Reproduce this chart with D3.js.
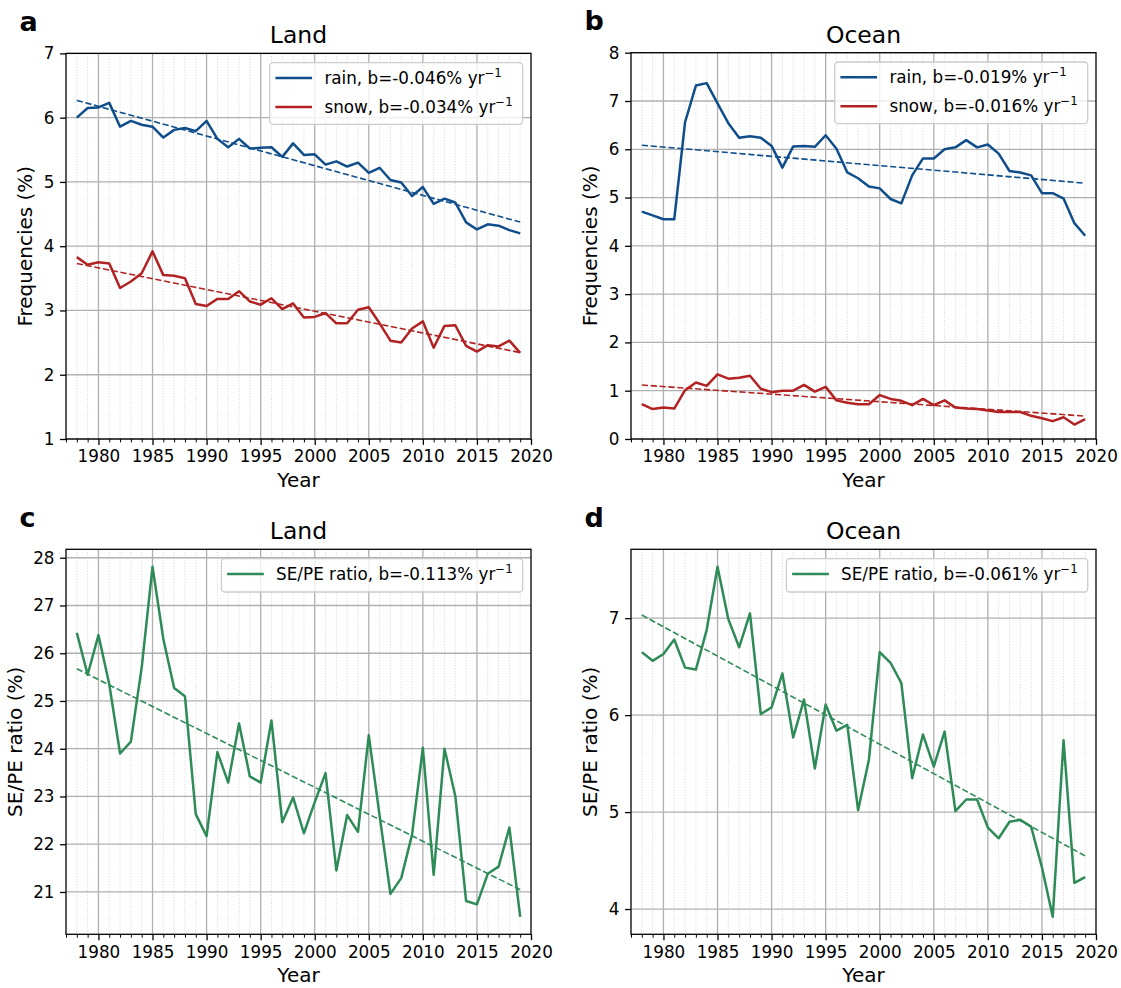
<!DOCTYPE html>
<html><head><meta charset="utf-8">
<script src="https://cdn.jsdelivr.net/npm/d3@7"></script>
<style>
body{margin:0;background:#fff}
text{font-family:"DejaVu Sans",sans-serif;fill:#000}
</style>
</head><body>
<svg id="chart" width="1121" height="988"></svg>
<script>
// ---------------- data ----------------
const years = [1978,1979,1980,1981,1982,1983,1984,1985,1986,1987,1988,1989,1990,1991,1992,1993,1994,1995,1996,1997,1998,1999,2000,2001,2002,2003,2004,2005,2006,2007,2008,2009,2010,2011,2012,2013,2014,2015,2016,2017,2018,2019];

const landRain = [6.00,6.15,6.16,6.23,5.86,5.95,5.89,5.86,5.69,5.81,5.84,5.79,5.95,5.67,5.54,5.67,5.52,5.53,5.54,5.39,5.60,5.42,5.43,5.27,5.32,5.24,5.30,5.14,5.22,5.03,4.99,4.78,4.92,4.66,4.74,4.68,4.37,4.26,4.34,4.32,4.25,4.20];
const landSnow = [3.83,3.71,3.75,3.73,3.35,3.45,3.58,3.92,3.55,3.54,3.50,3.10,3.07,3.18,3.18,3.30,3.14,3.09,3.19,3.02,3.11,2.89,2.90,2.96,2.80,2.80,3.01,3.05,2.80,2.53,2.50,2.72,2.83,2.42,2.76,2.77,2.45,2.36,2.46,2.44,2.53,2.34];
const oceanRain = [4.71,4.63,4.55,4.55,6.56,7.32,7.37,6.95,6.54,6.24,6.27,6.24,6.07,5.62,6.06,6.07,6.05,6.29,6.01,5.52,5.40,5.23,5.19,4.97,4.88,5.46,5.81,5.81,6.00,6.04,6.19,6.04,6.10,5.91,5.55,5.52,5.46,5.09,5.09,4.98,4.47,4.21];
const oceanSnow = [0.72,0.62,0.65,0.63,1.01,1.17,1.10,1.34,1.25,1.27,1.31,1.04,0.97,1.00,1.00,1.12,0.98,1.08,0.80,0.75,0.72,0.72,0.91,0.83,0.79,0.70,0.83,0.70,0.80,0.65,0.63,0.62,0.59,0.56,0.56,0.56,0.48,0.43,0.37,0.45,0.30,0.41];
const landRatio = [26.43,25.55,26.38,25.35,23.90,24.15,25.70,27.81,26.30,25.27,25.10,22.63,22.17,23.93,23.29,24.53,23.42,23.29,24.59,22.46,22.98,22.23,22.88,23.49,21.45,22.61,22.26,24.28,22.60,20.96,21.29,22.20,24.02,21.36,24.00,23.01,20.81,20.74,21.38,21.53,22.35,20.48];
const oceanRatio = [6.65,6.56,6.63,6.78,6.49,6.47,6.88,7.53,6.99,6.70,7.05,6.01,6.08,6.43,5.77,6.16,5.45,6.11,5.84,5.90,5.02,5.54,6.65,6.54,6.33,5.35,5.80,5.47,5.83,5.01,5.13,5.13,4.84,4.73,4.90,4.92,4.85,4.43,3.92,5.74,4.27,4.33];

const xTickYears = [1980,1985,1990,1995,2000,2005,2010,2015,2020];
const xMinorYears = [1977,1978,1979,1981,1982,1983,1984,1986,1987,1988,1989,1991,1992,1993,1994,1996,1997,1998,1999,2001,2002,2003,2004,2006,2007,2008,2009,2011,2012,2013,2014,2016,2017,2018,2019];
const yTicksA = [1,2,3,4,5,6,7];
const yTicksB = [0,1,2,3,4,5,6,7,8];
const yTicksC = [21,22,23,24,25,26,27,28];
const yTicksD = [4,5,6,7];

const panelLetters = ["a","b","c","d"];
const panelTitles = ["Land","Ocean","Land","Ocean"];
const yLabels = ["Frequencies (%)","Frequencies (%)","SE/PE ratio (%)","SE/PE ratio (%)"];
const legendA = ["rain, b=-0.046% yr","snow, b=-0.034% yr"];
const legendB = ["rain, b=-0.019% yr","snow, b=-0.016% yr"];
const legendC = ["SE/PE ratio, b=-0.113% yr"];
const legendD = ["SE/PE ratio, b=-0.061% yr"];

// ---------------- styles ----------------
const COL_RAIN = "#104e8b", COL_SNOW = "#b22222", COL_RATIO = "#2e8b57";
const TICK_FS = 16.8, LABEL_FS = 20, TITLE_FS = 23.5, LEG_FS = 16.8, LETTER_FS = 27;

const svg = d3.select("#chart");

function fit(xs, ys){
  const n = xs.length;
  const mx = d3.mean(xs), my = d3.mean(ys);
  let sxy = 0, sxx = 0;
  for (let i=0;i<n;i++){ sxy += (xs[i]-mx)*(ys[i]-my); sxx += (xs[i]-mx)*(xs[i]-mx); }
  const b = sxy/sxx, a = my - b*mx;
  return [[xs[0], a+b*xs[0]], [xs[n-1], a+b*xs[n-1]]];
}

const panels = [
  {left:66, right:531, top:53.4, bottom:439, yDomain:[1,7], yTicks:yTicksA,
   series:[{v:landRain,c:COL_RAIN},{v:landSnow,c:COL_SNOW}], legend:legendA, ylabX:32},
  {left:631, right:1096, top:52.7, bottom:439, yDomain:[0,8], yTicks:yTicksB,
   series:[{v:oceanRain,c:COL_RAIN},{v:oceanSnow,c:COL_SNOW}], legend:legendB, ylabX:597},
  {left:66, right:531, top:549.3, bottom:934.3, yDomain:null, yTicks:yTicksC,
   series:[{v:landRatio,c:COL_RATIO}], legend:legendC, ylabX:21.5},
  {left:631, right:1096, top:549.3, bottom:934.3, yDomain:null, yTicks:yTicksD,
   series:[{v:oceanRatio,c:COL_RATIO}], legend:legendD, ylabX:597}
];

panels.forEach((p, pi) => {
  const x = d3.scaleLinear().domain([1977, 2020]).range([p.left, p.right]);
  let dom = p.yDomain;
  if (!dom){
    const all = [].concat(...p.series.map(s => s.v));
    const lo = d3.min(all), hi = d3.max(all), pad = (hi-lo)*0.05;
    dom = [lo-pad, hi+pad];
  }
  const y = d3.scaleLinear().domain(dom).range([p.bottom, p.top]);
  const g = svg.append("g");

  // minor vertical grid (dotted)
  g.append("g").selectAll("line").data(xMinorYears.filter(d => d>1977 && d<2020)).join("line")
    .attr("x1", d=>x(d)).attr("x2", d=>x(d)).attr("y1", p.top).attr("y2", p.bottom)
    .attr("stroke", "#d0d0d0").attr("stroke-width", 0.9).attr("stroke-dasharray", "1,1.7");
  // major grid
  g.append("g").selectAll("line").data(xTickYears.filter(d => d<2020)).join("line")
    .attr("x1", d=>x(d)).attr("x2", d=>x(d)).attr("y1", p.top).attr("y2", p.bottom)
    .attr("stroke", "#b0b0b0").attr("stroke-width", 1.3);
  g.append("g").selectAll("line").data(p.yTicks).join("line")
    .attr("x1", p.left).attr("x2", p.right).attr("y1", d=>y(d)).attr("y2", d=>y(d))
    .attr("stroke", "#b0b0b0").attr("stroke-width", 1.3);

  // series
  const line = d3.line().x((d,i)=>x(years[i])).y(d=>y(d));
  p.series.forEach(s => {
    g.append("path").datum(s.v).attr("d", line).attr("fill","none")
      .attr("stroke", s.c).attr("stroke-width", 2.5).attr("stroke-linejoin","round");
    const t = fit(years, s.v);
    g.append("path").datum(t).attr("d", d3.line().x(d=>x(d[0])).y(d=>y(d[1])))
      .attr("fill","none").attr("stroke", s.c).attr("stroke-width", 1.6)
      .attr("stroke-dasharray","6.2,2.7");
  });

  // axes
  const ax = g.append("g").attr("transform", `translate(0,${p.bottom})`)
    .call(d3.axisBottom(x).tickValues(xTickYears).tickSize(5.9).tickPadding(5.6).tickFormat(d3.format("d")));
  ax.select(".domain").remove();
  ax.selectAll("text").attr("font-size", TICK_FS).attr("font-family","DejaVu Sans");
  ax.selectAll("line").attr("stroke-width", 1.3);
  const axm = g.append("g").attr("transform", `translate(0,${p.bottom})`)
    .call(d3.axisBottom(x).tickValues(xMinorYears).tickSize(3.4).tickFormat(""));
  axm.select(".domain").remove();
  axm.selectAll("line").attr("stroke-width", 1.0);

  const ay = g.append("g").attr("transform", `translate(${p.left},0)`)
    .call(d3.axisLeft(y).tickValues(p.yTicks).tickSize(5.9).tickPadding(5.6).tickFormat(d3.format("d")));
  ay.select(".domain").remove();
  ay.selectAll("text").attr("font-size", TICK_FS).attr("font-family","DejaVu Sans");
  ay.selectAll("line").attr("stroke-width", 1.3);

  // spines
  g.append("rect").attr("x", p.left).attr("y", p.top).attr("width", p.right-p.left).attr("height", p.bottom-p.top)
    .attr("fill","none").attr("stroke","#000").attr("stroke-width",1.3);

  // labels
  g.append("text").attr("x", (p.left+p.right)/2).attr("y", p.bottom+48)
    .attr("text-anchor","middle").attr("font-size", LABEL_FS).text("Year");
  g.append("text").attr("transform", `translate(${p.ylabX},${(p.top+p.bottom)/2}) rotate(-90)`)
    .attr("text-anchor","middle").attr("font-size", LABEL_FS).text(yLabels[pi]);
  g.append("text").attr("x", (p.left+p.right)/2).attr("y", p.top-10.2)
    .attr("text-anchor","middle").attr("font-size", TITLE_FS).text(panelTitles[pi]);
  g.append("text").attr("x", p.left-46.5).attr("y", p.top-22.6)
    .attr("font-size", LETTER_FS).attr("font-weight","bold").text(panelLetters[pi]);

  // legend
  const lg = g.append("g");
  const rowH = 29, n = p.legend.length;
  const boxH = n===2 ? 61.6 : 33.4;
  const texts = [];
  const tmp = lg.append("g");
  p.legend.forEach((lab, i) => {
    const t = tmp.append("text").attr("font-size", LEG_FS).attr("y", 0);
    t.append("tspan").text(lab);
    t.append("tspan").attr("font-size", LEG_FS*0.7).attr("dy", -7).text("\u22121");
    texts.push(t);
  });
  const maxLen = d3.max(texts, t => t.node().getComputedTextLength());
  const boxW = 5.7 + 36.7 + 12.3 + maxLen + 10;
  const bx = p.right - 8.3 - boxW, by = p.top + 9.3;
  lg.insert("rect", ":first-child").attr("x", bx).attr("y", by).attr("width", boxW).attr("height", boxH)
    .attr("rx", 3.5).attr("fill","#fff").attr("fill-opacity",0.8).attr("stroke","#cccccc").attr("stroke-width",1.3);
  p.legend.forEach((lab, i) => {
    const cy = by + 15.3 + i*rowH;
    lg.append("line").attr("x1", bx+5.7).attr("x2", bx+5.7+36.7).attr("y1", cy).attr("y2", cy)
      .attr("stroke", p.series[i].c).attr("stroke-width", 2.5);
    texts[i].attr("x", bx+5.7+36.7+12.3).attr("y", cy+6);
    texts[i].select("tspan").attr("x", bx+5.7+36.7+12.3);
  });
});
</script>
</body></html>
